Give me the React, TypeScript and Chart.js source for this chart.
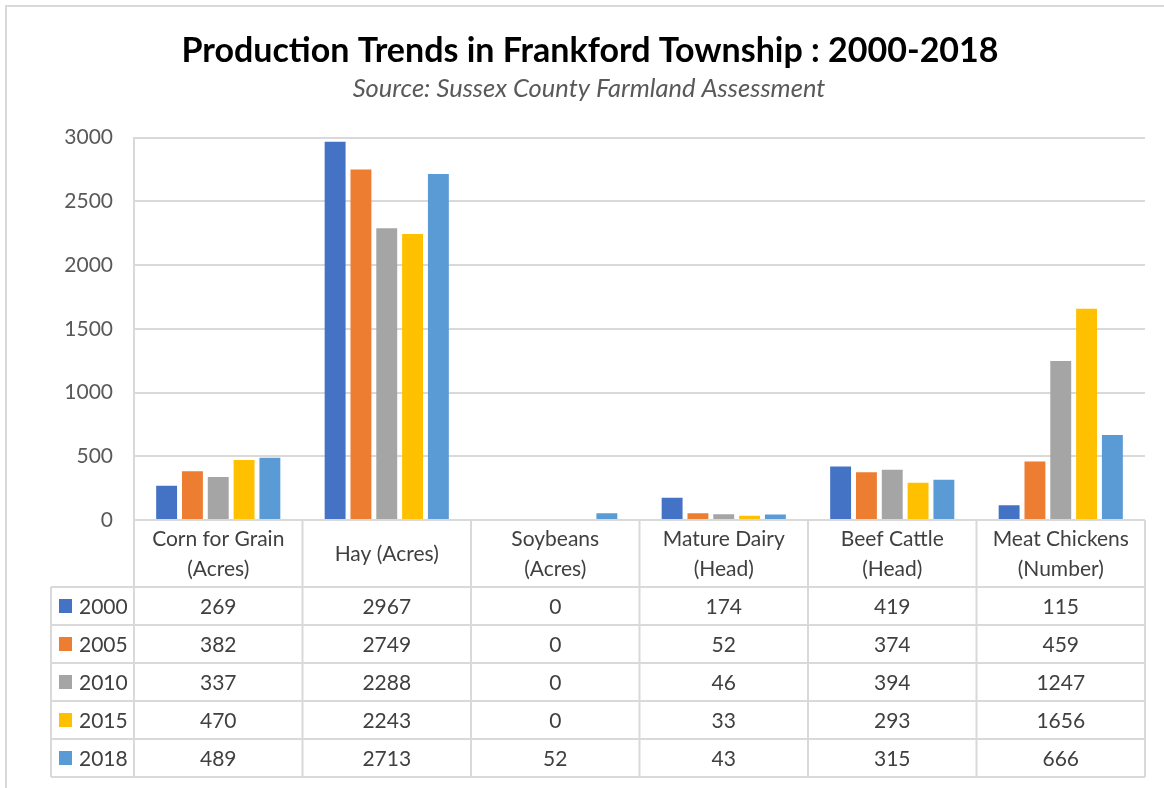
import React, { useEffect, useRef } from "react";
import { Chart, registerables } from "chart.js";

Chart.register(...registerables);

const categories: string[][] = [
  ["Corn for Grain", "(Acres)"],
  ["Hay (Acres)"],
  ["Soybeans", "(Acres)"],
  ["Mature Dairy", "(Head)"],
  ["Beef Cattle", "(Head)"],
  ["Meat Chickens", "(Number)"],
];
const years = ["2000", "2005", "2010", "2015", "2018"];
const values2000 = [269, 2967, 0, 174, 419, 115];
const values2005 = [382, 2749, 0, 52, 374, 459];
const values2010 = [337, 2288, 0, 46, 394, 1247];
const values2015 = [470, 2243, 0, 33, 293, 1656];
const values2018 = [489, 2713, 52, 43, 315, 666];
const seriesValues = [values2000, values2005, values2010, values2015, values2018];
const seriesColors = ["#4472C4", "#ED7D31", "#A5A5A5", "#FFC000", "#5B9BD5"];
const yMin = 0;
const yMax = 3000;
const yStep = 500;

const titleText = "Production Trends in Frankford Township : 2000-2018";
const subtitleText = "Source: Sussex County Farmland Assessment";

const FONT = "Lato, 'Open Sans', sans-serif";
const W = 1164;
const H = 788;
const LINE = "#d9d9d9";
const TEXT = "#404040";

const tablePlugin = {
  id: "tablePlugin",
  afterDraw(chart: any) {
    const ctx = chart.ctx as CanvasRenderingContext2D;
    const x = chart.scales.x;
    const area = chart.chartArea;
    ctx.save();

    // outer border
    ctx.strokeStyle = LINE;
    ctx.lineWidth = 2;
    ctx.strokeRect(6, 6, W + 20, H + 20);

    // title
    ctx.fillStyle = "#000";
    ctx.textAlign = "center";
    ctx.textBaseline = "alphabetic";
    ctx.font = `bold 34px ${FONT}`;
    ctx.fillText(titleText, 590, 62);
    ctx.fillStyle = "#595959";
    ctx.font = `italic 25.5px ${FONT}`;
    ctx.fillText(subtitleText, 589, 97);

    const half = (x.getPixelForValue(1) - x.getPixelForValue(0)) / 2;
    const right = area.right;
    const top = area.bottom;
    const headerBottom = top + 67;
    const rowH = 38;
    const keyLeft = 51;
    const tableBottom = headerBottom + rowH * years.length;

    ctx.strokeStyle = LINE;
    ctx.lineWidth = 2;
    ctx.beginPath();
    for (let i = 0; i <= categories.length; i++) {
      const px = i < categories.length ? x.getPixelForValue(i) - half : x.getPixelForValue(categories.length - 1) + half;
      ctx.moveTo(px, top);
      ctx.lineTo(px, tableBottom);
    }
    ctx.moveTo(keyLeft, headerBottom);
    ctx.lineTo(keyLeft, tableBottom);
    for (let r = 0; r <= years.length; r++) {
      const py = headerBottom + r * rowH;
      ctx.moveTo(keyLeft, py);
      ctx.lineTo(right, py);
    }
    ctx.stroke();

    // header labels
    ctx.fillStyle = TEXT;
    ctx.font = `21px ${FONT}`;
    ctx.textAlign = "center";
    ctx.textBaseline = "middle";
    const headerMid = (top + headerBottom) / 2;
    categories.forEach((lines, i) => {
      const cx = x.getPixelForValue(i);
      const lh = 30;
      const start = headerMid - ((lines.length - 1) * lh) / 2;
      lines.forEach((ln, k) => ctx.fillText(ln, cx, start + k * lh + 1));
    });

    // rows
    years.forEach((yr, r) => {
      const cy = headerBottom + r * rowH + rowH / 2;
      ctx.fillStyle = seriesColors[r];
      ctx.fillRect(59, cy - 7, 13, 14);
      ctx.fillStyle = TEXT;
      ctx.textAlign = "left";
      ctx.fillText(yr, 79, cy + 1);
      ctx.textAlign = "center";
      seriesValues[r].forEach((v, i) => {
        ctx.fillText(String(v), x.getPixelForValue(i), cy + 1);
      });
    });
    ctx.restore();
  },
};

export default function App() {
  const ref = useRef<HTMLCanvasElement | null>(null);
  useEffect(() => {
    if (!ref.current) return;
    const chart = new Chart(ref.current, {
      type: "bar",
      data: {
        labels: categories.map((c) => c.join(" ")),
        datasets: years.map((yr, i) => ({
          label: yr,
          data: seriesValues[i],
          backgroundColor: seriesColors[i],
          borderWidth: 0,
          categoryPercentage: 0.766,
          barPercentage: 0.81,
        })),
      },
      options: {
        responsive: false,
        animation: false,
        layout: { padding: { left: 0, top: 137.5, right: 19, bottom: 268 } },
        plugins: {
          legend: { display: false },
          title: { display: false },
          tooltip: { enabled: false },
        },
        scales: {
          x: { display: false },
          y: {
            min: yMin,
            max: yMax,
            ticks: {
              stepSize: yStep,
              padding: 21,
              color: "#595959",
              font: { family: FONT, size: 21 },
              callback: (v: any) => String(v),
            },
            grid: { color: LINE, lineWidth: 2, drawTicks: false },
            border: { display: true, color: LINE, width: 2 },
            afterFit: (scale: any) => {
              scale.width = 134;
            },
          },
        },
      },
      plugins: [tablePlugin],
    });
    return () => chart.destroy();
  }, []);
  return (
    <div style={{ position: "absolute", left: 0, top: 0, width: W, height: H, background: "#fff" }}>
      <canvas ref={ref} width={W} height={H} style={{ display: "block" }} />
    </div>
  );
}
